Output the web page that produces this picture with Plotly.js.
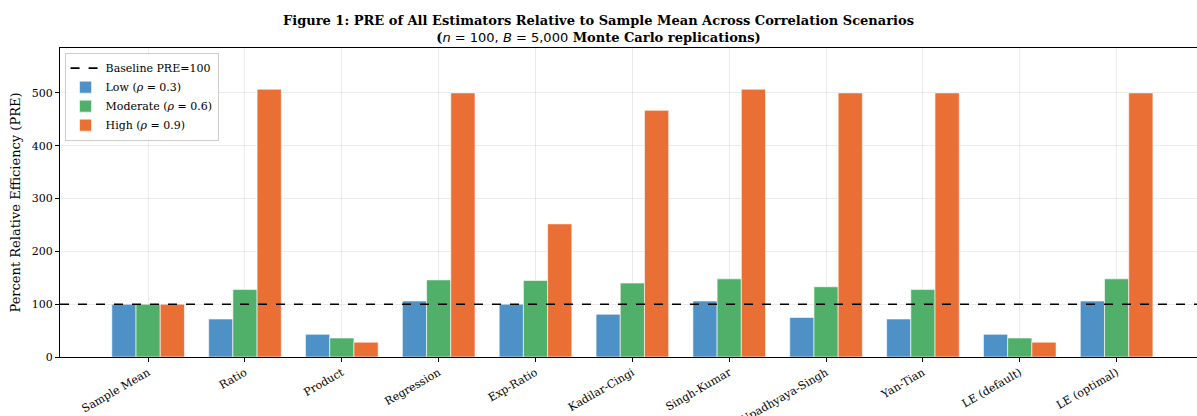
<!DOCTYPE html>
<html><head><meta charset="utf-8">
<script src="https://cdn.plot.ly/plotly-3.0.1.min.js"></script>
<style>body{margin:0;padding:0;background:#fff}</style>
</head><body>
<div id="chart" style="width:1197px;height:416px"></div>
<script>
const categories = ["Sample Mean","Ratio","Product","Regression","Exp-Ratio","Kadilar-Cingi","Singh-Kumar","Upadhyaya-Singh","Yan-Tian","LE (default)","LE (optimal)"];
const lowValues      = [100, 72, 43, 106, 100, 81, 106, 75, 72, 43, 106];
const moderateValues = [100, 128, 36, 146, 145, 140, 148, 133, 128, 36, 148];
const highValues     = [100, 507, 28, 500, 252, 467, 507, 500, 500, 28, 500];
const baseline = 100;
const seriesNames = ["Low (<i>ρ</i> = 0.3)", "Moderate (<i>ρ</i> = 0.6)", "High (<i>ρ</i> = 0.9)"];
const colors = ["rgb(78,145,199)", "rgb(80,176,106)", "rgb(233,111,52)"];

const serif = "DejaVu Serif, serif";
const bars = [lowValues, moderateValues, highValues].map((v, i) => ({
  type: "bar", x: categories, y: v, name: seriesNames[i],
  marker: {color: colors[i], line: {color: "rgba(255,255,255,0.6)", width: 1}},
  hoverinfo: "x+y"
}));
const baseTrace = {type: "scatter", mode: "lines", x: [categories[0]], y: [null],
  name: "Baseline PRE=100", line: {color: "black", dash: "dash", width: 1.6}};

const layout = {
  width: 1197, height: 416,
  margin: {l: 60, r: 0, t: 48, b: 59},
  paper_bgcolor: "white", plot_bgcolor: "white",
  font: {family: serif, size: 11, color: "black"},
  title: {text: "<b>Figure 1: PRE of All Estimators Relative to Sample Mean Across Correlation Scenarios</b><br><b>(</b><span style=\"font-family:DejaVu Sans\"><i>n</i> = 100, <i>B</i> = 5,000</span><b> Monte Carlo replications)</b>",
    font: {family: serif, size: 13}, x: 0.5, xanchor: "center", y: 0.94, yanchor: "middle"},
  barmode: "group", bargap: 0.25, bargroupgap: 0,
  xaxis: {range: [-0.91, 10.83], tickangle: -30, showgrid: true, gridcolor: "rgba(0,0,0,0.08)",
    showline: true, linecolor: "black", linewidth: 1, mirror: true, ticks: "outside", ticklen: 4,
    tickcolor: "black", tickfont: {family: serif, size: 11}},
  yaxis: {range: [0, 585], dtick: 100, showgrid: true, gridcolor: "rgba(0,0,0,0.08)",
    showline: true, linecolor: "black", linewidth: 1, mirror: true, ticks: "outside", ticklen: 4,
    tickcolor: "black", zeroline: false, tickfont: {family: serif, size: 11},
    title: {text: "Percent Relative Efficiency (PRE)", font: {family: serif, size: 13}, standoff: 8}},
  shapes: [{type: "line", xref: "paper", x0: 0, x1: 1, yref: "y", y0: baseline, y1: baseline,
    line: {color: "black", dash: "dash", width: 1.6}, layer: "above"}],
  legend: {x: 0.004, y: 0.985, xanchor: "left", yanchor: "top", bgcolor: "rgba(255,255,255,0.85)",
    bordercolor: "#cccccc", borderwidth: 1, font: {family: serif, size: 11}, traceorder: "normal",
    itemwidth: 30, tracegroupgap: 0}
};
Plotly.newPlot("chart", [baseTrace, ...bars], layout, {displayModeBar: false});
</script>
</body></html>
